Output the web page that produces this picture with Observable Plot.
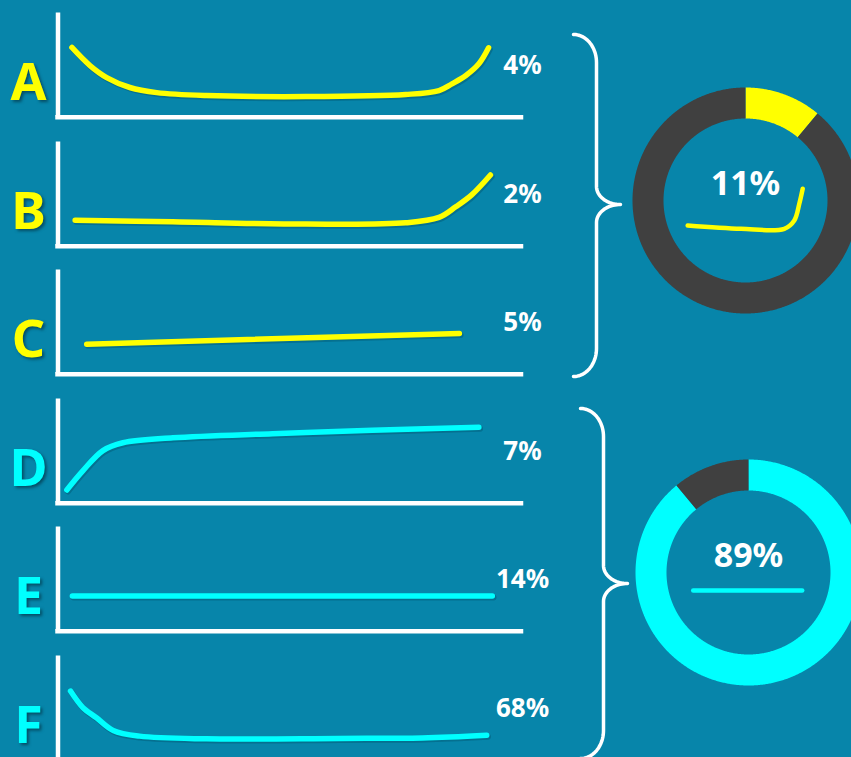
<!DOCTYPE html>
<html><head><meta charset="utf-8">
<script src="https://cdn.jsdelivr.net/npm/d3@7"></script>
<script src="https://cdn.jsdelivr.net/npm/@observablehq/plot@0.6"></script>
<style>
html,body{margin:0;padding:0;background:#0785aa;}
#chart{position:relative;width:851px;height:757px;overflow:hidden;background:#0785aa;font-family:Lato,"Open Sans",sans-serif;}
#chart > div{position:absolute;}
#chart svg{overflow:visible;max-width:none !important;display:block;}
</style>
</head><body><div id="chart"></div>
<script>
// ---------- data ----------
const categories = ["A","B","C","D","E","F"];
const shares = [4, 2, 5, 7, 14, 68];            // percent per category
const groupIndex = [0, 0, 0, 1, 1, 1];          // which donut each category belongs to
const groupColors = ["#ffff00", "#00ffff"];
const restColor = "#404040";

// curve shapes [x, y] in 0..100 panel units
const seriesA = [[3.0,66.9],[6.9,49.5],[10.5,38],[15.5,28.5],[21.3,23.6],[32,20.8],[53.5,19.8],[75,21.8],[82.2,25.6],[85,32],[88,40],[90.8,51.2],[92.9,66.6]];
const seriesB = [[3.7,25],[24.7,23.4],[53.5,21.2],[75,22.4],[82.2,27.6],[85.8,37.8],[89.2,49],[93.3,68.3]];
const seriesC = [[6.2,28.8],[86.6,39.1]];
const seriesD = [[1.9,12.7],[5.4,31.3],[9.7,50.5],[14,58],[24.8,62.8],[46.3,66.7],[67.8,69.9],[90.8,72.9]];
const seriesE = [[3.1,33.7],[93.7,33.7]];
const seriesF = [[2.7,66.3],[5.4,50.3],[8.3,40.7],[11.9,28.6],[17.6,23.1],[32,20.5],[60.6,20.9],[78.6,21.4],[92.5,24]];
const series = [seriesA, seriesB, seriesC, seriesD, seriesE, seriesF];

// small icons drawn inside the donuts (donut units, y up)
const iconTop = [[-57.8,-25],[-4.5,-28.3],[38.8,-28.3],[48.8,-20],[53.8,-3.3],[57.2,11.7]];
const iconBottom = [[-55.3,-18],[53.7,-18]];
const icons = [iconTop, iconBottom];

// ---------- layout ----------
const L = {
  rowStep: 128.6, panelW: 560, panelH: 129,
  mL: 57.5, mR: 39, mT: 12.5, mB: 12.3,
  donuts: [{cx: 744.5, cy: 200}, {cx: 748, cy: 572}],
  donutBox: 240, rOuter: 113, rInner: 82,
  braces: [
    {xEnd: 573, xLine: 596, xTip: 620, yTop: 34, yTip: 204, yBot: 376},
    {xEnd: 580, xLine: 603, xTip: 627, yTop: 408, yTip: 583, yBot: 758}
  ]
};

const chart = document.getElementById("chart");
function place(node, left, top, w, h) {
  const d = document.createElement("div");
  d.style.left = left + "px"; d.style.top = top + "px";
  d.style.width = w + "px"; d.style.height = h + "px";
  d.appendChild(node); chart.appendChild(d);
}
const toXY = arr => arr.map(([x, y]) => ({x, y}));

// ---------- panels ----------
categories.forEach((cat, i) => {
  const color = groupColors[groupIndex[i]];
  const lab = [{t: cat, p: shares[i] + "%"}];
  const p = Plot.plot({
    width: L.panelW, height: L.panelH,
    marginLeft: L.mL, marginRight: L.mR, marginTop: L.mT, marginBottom: L.mB,
    x: {domain: [0, 100], axis: null},
    y: {domain: [0, 100], axis: null},
    style: {background: "transparent", overflow: "visible", maxWidth: "none"},
    marks: [
      Plot.ruleX([0], {y1: 0, y2: 100, stroke: "white", strokeWidth: 4.5}),
      Plot.ruleY([0], {x1: 0, x2: 100, stroke: "white", strokeWidth: 4.5, strokeLinecap: "square"}),
      Plot.line(toXY(series[i]), {x: "x", y: "y", stroke: "#03506a", strokeOpacity: 0.4, strokeWidth: 6, dx: 1.2, dy: 1.5, curve: "catmull-rom", strokeLinecap: "round"}),
      Plot.line(toXY(series[i]), {x: "x", y: "y", stroke: color, strokeWidth: 5.5, curve: "catmull-rom", strokeLinecap: "round"}),
      Plot.text(lab, {x: () => 0, y: () => 32, text: "t", dx: -29.5, fill: color, fontSize: 52, fontWeight: "bold", textAnchor: "middle", lineAnchor: "middle"}),
      Plot.text(lab, {x: () => 100, y: () => 49, text: "p", dx: 1, fill: "white", fontSize: 26, fontWeight: "bold", textAnchor: "middle", lineAnchor: "middle"})
    ]
  });
  const letterG = p.querySelectorAll('g[aria-label="text"]')[0];
  if (letterG) letterG.style.filter = "drop-shadow(2px 2px 1.5px rgba(2,40,55,0.6))";
  place(p, 0, i * L.rowStep, L.panelW, L.panelH);
});

// ---------- donuts ----------
const groupTotals = groupColors.map((c, g) => d3.sum(shares.filter((s, i) => groupIndex[i] === g)));
const pie = d3.pie().sort(null).startAngle(0).endAngle(2 * Math.PI);
groupTotals.forEach((total, g) => {
  const slices = pie([total, 100 - total]);
  const rMid = (L.rOuter + L.rInner) / 2, w = L.rOuter - L.rInner;
  const arcPts = s => {
    const n = Math.max(2, Math.ceil((s.endAngle - s.startAngle) / (Math.PI / 360)));
    return d3.range(n + 1).map(k => {
      const a = s.startAngle + (s.endAngle - s.startAngle) * k / n;
      return {x: rMid * Math.sin(a), y: rMid * Math.cos(a)};
    });
  };
  const h = L.donutBox / 2;
  const p = Plot.plot({
    width: L.donutBox, height: L.donutBox, margin: 0,
    x: {domain: [-h, h], axis: null},
    y: {domain: [-h, h], axis: null},
    style: {background: "transparent", overflow: "visible", maxWidth: "none"},
    marks: [
      Plot.line(arcPts(slices[0]), {x: "x", y: "y", stroke: groupColors[g], strokeWidth: w, strokeLinecap: "butt", strokeLinejoin: "round"}),
      Plot.line(arcPts(slices[1]), {x: "x", y: "y", stroke: restColor, strokeWidth: w, strokeLinecap: "butt", strokeLinejoin: "round"}),
      Plot.line(toXY(icons[g]), {x: "x", y: "y", stroke: groupColors[g], strokeWidth: 4.5, curve: "catmull-rom", strokeLinecap: "round"}),
      Plot.text([{t: total + "%"}], {x: () => 0, y: () => 16, text: "t", fill: "white", fontSize: 34, fontWeight: "bold", textAnchor: "middle", lineAnchor: "middle"})
    ]
  });
  place(p, L.donuts[g].cx - h, L.donuts[g].cy - h, L.donutBox, L.donutBox);
});

// ---------- braces ----------
function brace(b, id) {
  const pts = [], n = 20, rx = b.xLine - b.xEnd, ry1 = 28, tx = b.xTip - b.xLine, ry2 = 18;
  const q = Math.PI / 2;
  for (let i = 0; i <= n; i++) { const t = i / n * q; pts.push({x: b.xEnd + rx * Math.sin(t), y: b.yTop + ry1 - ry1 * Math.cos(t), id}); }
  for (let i = 0; i <= n; i++) { const t = i / n * q; pts.push({x: b.xLine + tx - tx * Math.cos(t), y: b.yTip - ry2 + ry2 * Math.sin(t), id}); }
  for (let i = 0; i <= n; i++) { const t = i / n * q; pts.push({x: b.xLine + tx - tx * Math.sin(t), y: b.yTip + ry2 - ry2 * Math.cos(t), id}); }
  for (let i = 0; i <= n; i++) { const t = i / n * q; pts.push({x: b.xEnd + rx * Math.cos(t), y: b.yBot - ry1 + ry1 * Math.sin(t), id}); }
  return pts;
}
const bracePts = L.braces.flatMap((b, k) => brace(b, k));
const bp = Plot.plot({
  width: 851, height: 757, margin: 0,
  x: {domain: [0, 851], range: [0, 851], axis: null},
  y: {domain: [0, 757], range: [0, 757], axis: null},
  style: {background: "transparent", overflow: "visible", maxWidth: "none"},
  marks: [
    Plot.line(bracePts, {x: "x", y: "y", z: "id", stroke: "white", strokeWidth: 3.5, strokeLinecap: "round", strokeLinejoin: "round"})
  ]
});
place(bp, 0, 0, 851, 757);
</script>
</body></html>
